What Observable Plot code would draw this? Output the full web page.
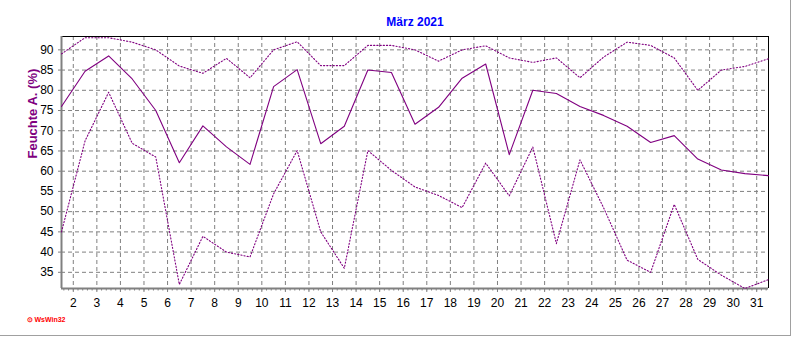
<!DOCTYPE html>
<html><head><meta charset="utf-8">
<script src="https://cdn.jsdelivr.net/npm/d3@7"></script>
<script src="https://cdn.jsdelivr.net/npm/@observablehq/plot@0.6"></script>
<style>
html,body{margin:0;padding:0;background:#fff;}
#wrap{position:relative;width:792px;height:337px;overflow:hidden;}
#wrap svg{display:block;}
#border{position:absolute;left:0;top:0;width:790px;height:335px;border-right:1px solid #a0a0a0;border-bottom:1px solid #a0a0a0;pointer-events:none;}
</style></head><body>
<div id="wrap"><div id="border"></div></div>
<script>
const titleText = "März 2021";
const yLabel = "Feuchte A. (%)";
const logoText = "\u2299 WsWin32";
const days = [1,2,3,4,5,6,7,8,9,10,11,12,13,14,15,16,17,18,19,20,21,22,23,24,25,26,27,28,29,30,31];
const meanVals = [76.0,84.7,88.5,82.8,75.0,62.1,71.2,66.0,61.7,80.9,85.1,66.8,71.1,85.0,84.4,71.6,75.8,83.0,86.5,64.1,80.0,79.2,76.0,73.8,71.1,67.1,68.8,63.0,60.3,59.4,58.9];
const maxVals  = [89.0,93.0,93.0,91.9,90.0,86.0,84.2,87.9,83.1,90.0,92.0,86.1,86.1,91.1,91.1,90.0,87.2,90.0,91.0,88.0,86.9,88.0,83.1,88.2,91.9,91.1,88.0,80.0,85.0,85.9,87.8];
const minVals  = [45.0,67.5,79.5,66.9,63.5,32.0,43.9,40.0,38.8,54.4,65.1,45.0,36.0,65.1,60.2,56.1,54.0,51.0,62.0,53.9,66.0,42.1,62.8,51.0,38.0,35.0,51.8,38.2,34.3,31.0,33.2];
const xTickLabels = [2,3,4,5,6,7,8,9,10,11,12,13,14,15,16,17,18,19,20,21,22,23,24,25,26,27,28,29,30,31];
const yTicks = [35,40,45,50,55,60,65,70,75,80,85,90];
const xDomain = [1.5, 31.5];
const yDomain = [31, 93.3];

const purple = "#800080";
const gray = "#808080";

// daily values plotted at noon of each day
const rows = days.map((d, i) => ({x: d + 0.5, mean: meanVals[i], max: maxVals[i], min: minVals[i]}));
const minorTicks = d3.range(16, 316, 2).map(v => v / 10);

const chart = Plot.plot({
  width: 792,
  height: 337,
  marginTop: 36,
  marginBottom: 49,
  marginLeft: 61,
  marginRight: 24,
  style: {fontFamily: "'Liberation Sans', Arial, sans-serif", fontSize: "12px", background: "#fff", color: "#000", overflow: "visible"},
  x: {domain: xDomain},
  y: {domain: yDomain},
  marks: [
    Plot.gridY({ticks: yTicks, stroke: gray, strokeOpacity: 1, strokeDasharray: "4,3"}),
    Plot.gridX({ticks: xTickLabels, stroke: gray, strokeOpacity: 1, strokeDasharray: "4,3"}),
    Plot.axisY({ticks: yTicks, tickSize: 3, tickPadding: 5, stroke: gray, fill: "#000", fontSize: 12, label: null}),
    Plot.axisX({ticks: xTickLabels, tickSize: 4, tickPadding: 6, stroke: gray, fill: "#000", fontSize: 12, label: null}),
    Plot.axisX({ticks: minorTicks, tickSize: 2.5, text: null, stroke: gray, label: null}),
    Plot.ruleY([yDomain[1]], {stroke: "#000", strokeWidth: 1}),
    Plot.ruleX([xDomain[1]], {stroke: "#000", strokeWidth: 1}),
    Plot.ruleX([xDomain[0]], {stroke: gray, strokeWidth: 2}),
    Plot.ruleY([yDomain[0]], {stroke: gray, strokeWidth: 2}),
    Plot.line(rows, {x: "x", y: "max", stroke: purple, strokeWidth: 1.1, strokeDasharray: "1.2,2"}),
    Plot.line(rows, {x: "x", y: "min", stroke: purple, strokeWidth: 1.1, strokeDasharray: "1.2,2"}),
    Plot.line(rows, {x: "x", y: "mean", stroke: purple, strokeWidth: 1.1}),
    Plot.text([titleText], {frameAnchor: "top", dy: -14.5, lineAnchor: "middle", fill: "#0000ff", fontWeight: "bold", fontSize: 12}),
    Plot.text([yLabel], {frameAnchor: "left", rotate: -90, dx: -29, dy: -4, lineAnchor: "middle", fill: purple, fontWeight: "bold", fontSize: 13}),
    Plot.text([logoText], {frameAnchor: "bottom-left", textAnchor: "start", dx: -35, dy: 31, lineAnchor: "middle", fill: "#ff0000", fontWeight: "bold", fontSize: 7})
  ]
});
document.getElementById("wrap").prepend(chart);
</script>
</body></html>
